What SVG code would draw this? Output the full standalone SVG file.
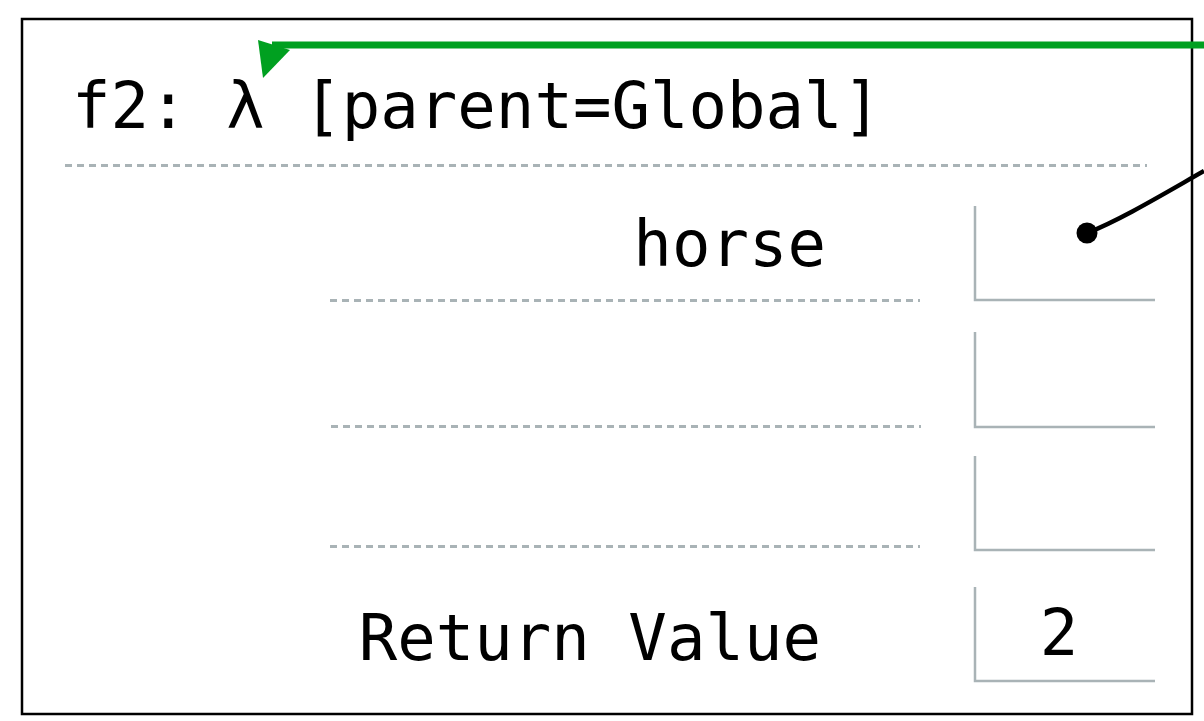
<svg xmlns="http://www.w3.org/2000/svg" width="1204" height="721" viewBox="0 0 1204 721">
<style>
.lbl{font-family:"DejaVu Sans Mono","Liberation Mono",monospace;font-size:64px;fill:#000}
.dash{stroke:#a9b3b6;stroke-width:3;stroke-dasharray:7,5;fill:none}
.slot{stroke:#a9b3b6;stroke-width:2.5;fill:none}
</style>
<rect width="1204" height="721" fill="#fff"/>
<g id="frame">
<rect x="22" y="19" width="1170" height="695" fill="#fff" stroke="#000" stroke-width="2.5"/>
<text class="lbl" x="72" y="128">f2: λ [parent=Global]</text>
<line class="dash" x1="65" y1="165.5" x2="1147" y2="165.5"/>
</g>
<g id="var-horse">
<text class="lbl" x="826" y="266" text-anchor="end">horse</text>
<line class="dash" x1="330" y1="300.5" x2="920" y2="300.5"/>
<path class="slot" d="M975,206 V300 H1155"/>
</g>
<g id="var-empty1">
<line class="dash" x1="331" y1="426.5" x2="921" y2="426.5"/>
<path class="slot" d="M975,332 V427 H1155"/>
</g>
<g id="var-empty2">
<line class="dash" x1="330" y1="546.5" x2="920" y2="546.5"/>
<path class="slot" d="M975,456 V550 H1155"/>
</g>
<g id="return-value">
<text class="lbl" x="821" y="660" text-anchor="end">Return Value</text>
<path class="slot" d="M975,587 V681 H1155"/>
<text class="lbl" x="1059" y="655" text-anchor="middle">2</text>
</g>
<g id="connectors">
<path d="M1204,45 H272" stroke="#00a020" stroke-width="7" fill="none"/>
<polygon points="258,40 290,50 263,78" fill="#00a020"/>
<path d="M1087,233 C1120,220 1160,196 1204,171" stroke="#000" stroke-width="4.5" fill="none"/>
<circle cx="1087" cy="233" r="10.5" fill="#000"/>
</g>
</svg>
